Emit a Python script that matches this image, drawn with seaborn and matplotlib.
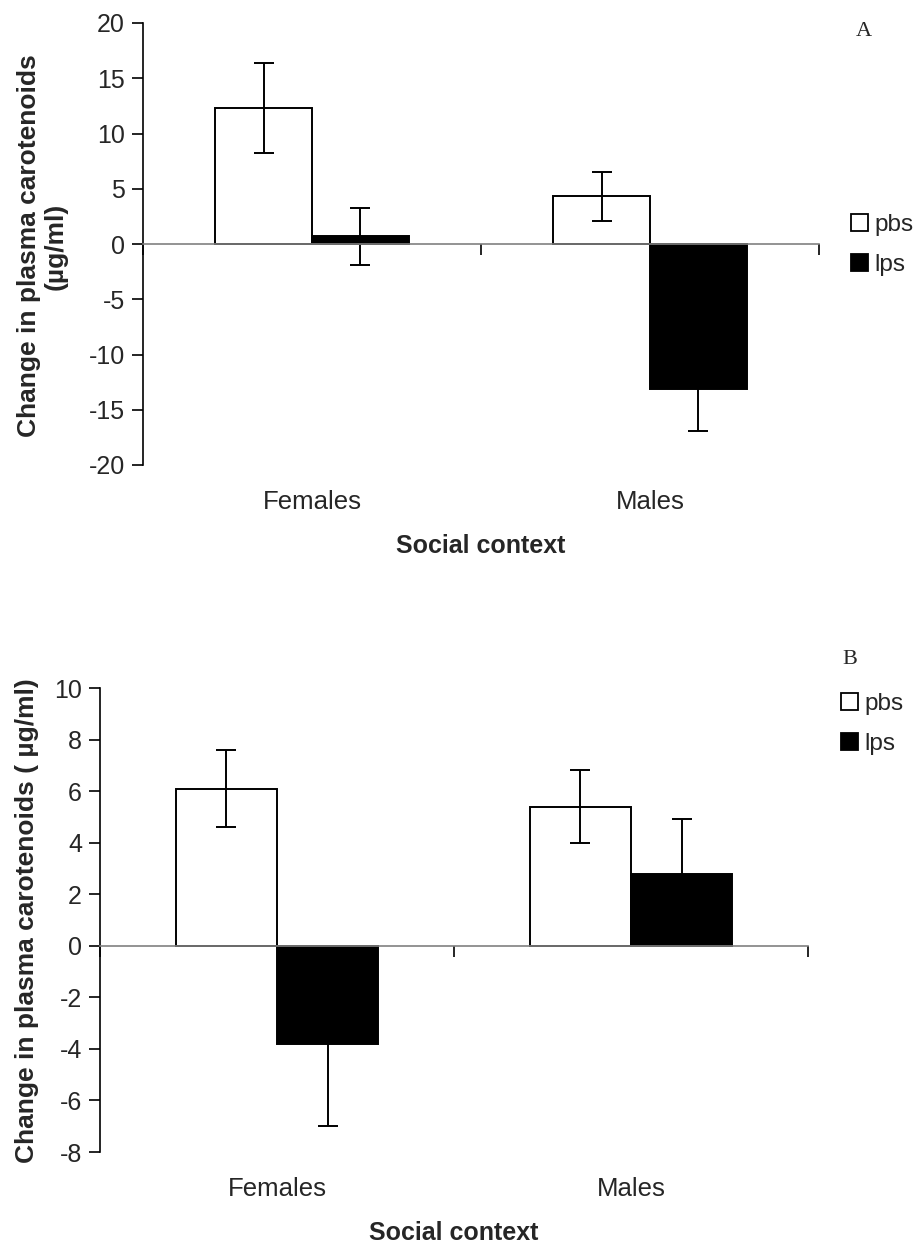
import pandas as pd
import numpy as np
import seaborn as sns
import matplotlib.pyplot as plt
from matplotlib.patches import Patch
from matplotlib.transforms import blended_transform_factory

# data
contexts = ["Females", "Males"]
treatments = ["pbs", "lps"]

# panel A
a_pbs = [12.3, 4.3]
a_lps = [0.7, -13.1]
a_pbs_err = [4.1, 2.2]
a_lps_err = [2.6, 3.8]

# panel B
b_pbs = [6.1, 5.4]
b_lps = [-3.8, 2.8]
b_pbs_err = [1.5, 1.4]
b_lps_err = [3.2, 2.1]

sns.set_style("white")
plt.rcParams["font.family"] = ["Liberation Sans", "DejaVu Sans"]

fig = plt.figure(figsize=(9.16, 12.49), dpi=100)
W, H = 916, 1249


def px_axes(left, top, right, bottom):
    return fig.add_axes([left / W, 1 - bottom / H, (right - left) / W, (bottom - top) / H])


def panel(ax, pbs, lps, pbs_err, lps_err, ylim, yticks):
    df = pd.DataFrame({
        "context": contexts * 2,
        "treatment": ["pbs"] * 2 + ["lps"] * 2,
        "value": pbs + lps,
    })
    sns.barplot(data=df, x="context", y="value", hue="treatment", hue_order=treatments,
                palette={"pbs": "white", "lps": "black"}, edgecolor="black", linewidth=1.4,
                width=0.572, errorbar=None, legend=False, ax=ax)
    for cont, errs in zip(ax.containers, [pbs_err, lps_err]):
        xs = [p.get_x() + p.get_width() / 2 for p in cont]
        ys = [p.get_height() for p in cont]
        ax.errorbar(xs, ys, yerr=errs, fmt="none", ecolor="black", elinewidth=1.4,
                    capsize=7.5, capthick=1.4)
    ax.set_xlim(-0.5, 1.5)
    ax.set_ylim(*ylim)
    ax.set_yticks(yticks)
    ax.set_yticklabels([str(t) for t in yticks], fontsize=18)
    ax.set_xticks([-0.5, 0.5, 1.5])
    ax.set_xticklabels([])
    ax.set_xlabel("")
    ax.set_ylabel("")
    for s in ["top", "right"]:
        ax.spines[s].set_visible(False)
    ax.spines["bottom"].set_position(("data", 0))
    ax.spines["bottom"].set_color("#808080")
    ax.spines["bottom"].set_linewidth(1.2)
    ax.spines["left"].set_color("black")
    ax.spines["left"].set_linewidth(1.2)
    ax.tick_params(axis="y", direction="out", length=8, width=1.2, color="black", left=True, pad=5)
    ax.tick_params(axis="x", direction="out", length=8, width=1.2, color="black", bottom=True)
    tr = blended_transform_factory(ax.transData, ax.transAxes)
    for i, c in enumerate(contexts):
        ax.text(i, -37 / (ax.bbox.height), c, transform=tr, ha="center", va="center", fontsize=18.5)


axA = px_axes(143, 23, 819, 465)
panel(axA, a_pbs, a_lps, a_pbs_err, a_lps_err, (-20, 20), list(range(-20, 21, 5)))
axB = px_axes(100, 688, 808, 1152)
panel(axB, b_pbs, b_lps, b_pbs_err, b_lps_err, (-8, 10), list(range(-8, 11, 2)))

# axis titles
fig.text(481 / W, 1 - 546 / H, "Social context", ha="center", va="center",
         fontsize=18, fontweight="bold")
fig.text(454 / W, 1 - 1233 / H, "Social context", ha="center", va="center",
         fontsize=18, fontweight="bold")
fig.text(42 / W, 1 - 246 / H, "Change in plasma carotenoids\n(µg/ml)", rotation=90,
         ha="center", va="center", fontsize=19, fontweight="bold", linespacing=1.15)
fig.text(27 / W, 1 - 921 / H, "Change in plasma carotenoids ( µg/ml)", rotation=90,
         ha="center", va="center", fontsize=19, fontweight="bold")

# panel letters
fig.text(864 / W, 1 - 32 / H, "A", ha="center", va="center", fontsize=16,
         family="Liberation Serif")
fig.text(850 / W, 1 - 660 / H, "B", ha="center", va="center", fontsize=16,
         family="Liberation Serif")

# legends
handles = [Patch(facecolor="white", edgecolor="black", linewidth=1.3),
           Patch(facecolor="black", edgecolor="black", linewidth=1.3)]
leg_kw = dict(loc="upper left", frameon=False, fontsize=17.5, handlelength=0.7,
              handleheight=0.7, handletextpad=0.25, labelspacing=0.72, borderpad=0,
              borderaxespad=0)
fig.legend(handles, treatments, bbox_to_anchor=(851 / W, 1 - 214 / H), **leg_kw)
fig.legend(handles, treatments, bbox_to_anchor=(841 / W, 1 - 693 / H), **leg_kw)

fig.savefig("out.png", dpi=100)
